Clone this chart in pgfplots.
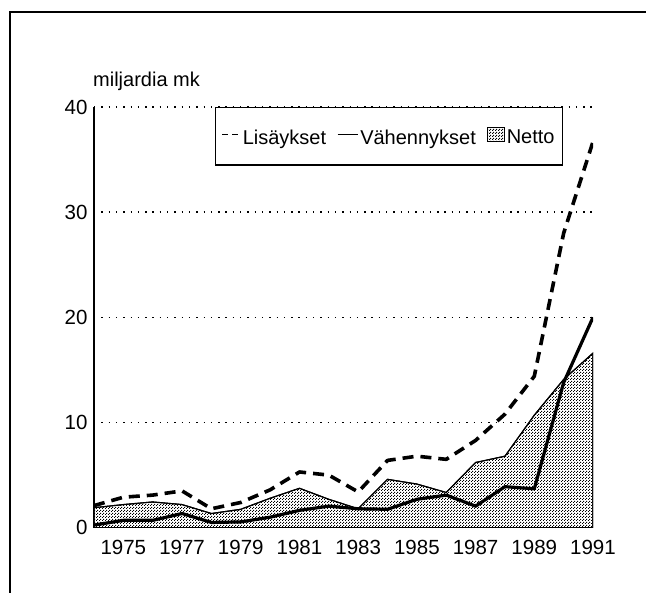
\documentclass[border=0pt]{standalone}
\usepackage{pgfplots}
\pgfplotsset{compat=1.18}
\usepackage{pgfplotstable}
\usetikzlibrary{patterns}
\usepackage{fontspec}
\setmainfont{Liberation Sans}

% stippled fill like the printed original
\pgfdeclarepatternformonly{stipple}{\pgfqpoint{0bp}{0bp}}{\pgfqpoint{3bp}{3bp}}{\pgfqpoint{3bp}{3bp}}{%
  \pgfpathrectangle{\pgfqpoint{0bp}{0bp}}{\pgfqpoint{1.3bp}{1.3bp}}%
  \pgfpathrectangle{\pgfqpoint{1.5bp}{1.5bp}}{\pgfqpoint{1.3bp}{1.3bp}}%
  \pgfusepath{fill}}

\pgfplotstableread{
year lis  vah  net
1974 2.1  0.25 1.9
1975 2.9  0.7  2.2
1976 3.1  0.7  2.45
1977 3.5  1.35 2.2
1978 1.8  0.5  1.35
1979 2.4  0.55 1.75
1980 3.6  1.0  2.8
1981 5.3  1.65 3.75
1982 5.0  2.05 2.7
1983 3.4  1.8  1.8
1984 6.4  1.75 4.6
1985 6.8  2.7  4.15
1986 6.5  3.1  3.35
1987 8.3  2.05 6.2
1988 10.8 3.9  6.8
1989 14.4 3.7  10.7
1990 28.0 13.8 14.1
1991 36.7 20.0 16.6
}\data

\begin{document}
\begin{tikzpicture}[font=\fontsize{20bp}{24bp}\selectfont]
\useasboundingbox (0,0) rectangle (646bp,-593bp);
\draw[line width=1.5bp] (10bp,-593bp) -- (10bp,-12bp) -- (646bp,-12bp);
\node[anchor=base west, inner sep=0] at (93bp,-86bp) {miljardia mk};
\begin{axis}[
  at={(94bp,-527.7bp)}, anchor=south west,
  scale only axis, width=499bp, height=420.7bp,
  xmin=1974, xmax=1991, ymin=0, ymax=40,
  axis x line*=bottom, axis y line*=left,
  axis line style={line width=1.3bp},
  xtick={1975,1977,...,1991},
  ytick={0,10,20,30,40},
  major tick length=0pt,
  ymajorgrids,
  grid style={black, line width=1.4bp, dash pattern=on 1.4bp off 5.9bp},
  /pgf/number format/assume math mode=true,
  x tick label style={/pgf/number format/1000 sep={}, yshift=-9bp},
  y tick label style={xshift=-3bp},
  tick label style={font=\fontsize{20.5bp}{24bp}\selectfont},
  legend columns=-1,
  legend style={at={(rel axis cs:0.2425,1)}, anchor=north west,
    draw=black, line width=1.4bp, fill=white,
    inner xsep=6bp, inner ysep=19.5bp,
    font=\fontsize{20bp}{24bp}\selectfont,
    nodes={inner xsep=2bp, inner ysep=0bp},
    /tikz/every even column/.append style={column sep=9bp}},
]
\addlegendimage{legend image code/.code={
  \draw[line width=1.1bp, dash pattern=on 6bp off 4bp] (0bp,3bp) -- (18bp,3bp);}}
\addlegendentry{Lisäykset}
\addlegendimage{legend image code/.code={
  \draw[line width=1.1bp] (0bp,3bp) -- (20bp,3bp);}}
\addlegendentry{Vähennykset}
\addlegendimage{legend image code/.code={
  \draw[line width=0.9bp, fill=white, postaction={pattern=stipple}] (0bp,-4bp) rectangle (17bp,10bp);}}
\addlegendentry{Netto}

\addplot[forget plot, draw=black, line width=1.1bp, fill=white,
  postaction={pattern=stipple}] table[x=year, y=net]{\data} \closedcycle;
\addplot[forget plot, black, line width=3.2bp, line join=round]
  table[x=year, y=vah]{\data};
\addplot[forget plot, black, line width=3.6bp, line join=round,
  dash pattern=on 11bp off 7bp] table[x=year, y=lis]{\data};
\end{axis}
\end{tikzpicture}
\end{document}
